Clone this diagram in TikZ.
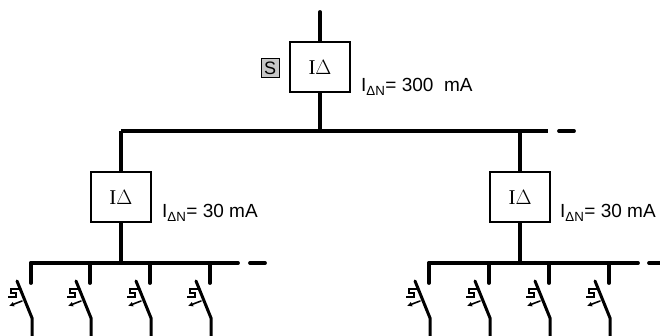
\documentclass[tikz,border=0pt]{standalone}
\usepackage{fontspec}
\setmainfont{Liberation Sans}
\newfontfamily\boxfont{Liberation Serif}
\usepackage{tikz}
\usetikzlibrary{positioning,arrows.meta}

\begin{document}
\begin{tikzpicture}[x=1pt, y=-1pt, line cap=round,
  every node/.style={inner sep=0pt},
  bus/.style={line width=3.8pt},
  wire/.style={line width=3pt},
  rcdbox/.style={draw, line width=2.2pt, minimum width=60pt, minimum height=50pt, font=\boxfont\fontsize{21}{24}\selectfont},
  rating/.style={anchor=base west, font=\fontsize{19}{22}\selectfont}]

\useasboundingbox (0,0) rectangle (660,336);

% main RCD
\node [rcdbox] (rcd) at (320,67) {I$\Delta$};
\node [draw, line width=0.8pt, fill=gray!45, minimum width=18pt, minimum height=19pt, font=\fontsize{18}{20}\selectfont] (sel) at (270,68) {S};
\node [rating] (rcdlbl) at (361,92) {I\textsubscript{ΔN}= 300\ \ mA};
\coordinate (feed) at (320,12);
\coordinate (top) at (320,131);
\draw [bus] (feed) -- (rcd.north);
\draw [bus] (rcd.south) -- (top);
\draw [bus, line cap=butt] (121,131) coordinate (topL) -- (548,131) coordinate (topR);
\draw [bus] (559,131) -- (574,131);

% branch RCDs
\node [rcdbox] (rcdA) at (121,197) {I$\Delta$};
\node [rating] (lblA) at (162,218) {I\textsubscript{ΔN}= 30 mA};
\node [rcdbox] (rcdB) at (520,197) {I$\Delta$};
\node [rating] (lblB) at (560,218) {I\textsubscript{ΔN}= 30 mA};
\draw [bus, line cap=butt] (topL) -- (rcdA.north);
\draw [bus, line cap=butt] (rcdB.north |- topR) -- (rcdB.north);
\draw [bus] (rcdA.south) -- (121,263);
\draw [bus] (rcdB.south) -- (520,263);

% distribution bars
\draw [bus] (31,263) coordinate (barA) -- (238,263);
\draw [bus] (250,263) -- (265,263);
\draw [bus] (429,263) coordinate (barB) -- (638,263);
\draw [bus] (649,263) -- (666,263);

% circuit breakers
\foreach \x in {31,90,150,210,429,489,549,609} {
  \draw [bus] (\x,263) -- (\x,283);
  \draw [wire] (\x-14,281) -- (\x+1,318) -- (\x+1,340);
  \draw [line width=1.6pt, line cap=butt] (\x-11,289) -- (\x-20,289) -- (\x-20,293) -- (\x-15,293) -- (\x-15,297) -- (\x-23,297);
  \draw [line width=1.6pt, -{Latex[length=5pt,width=5pt]}] (\x-9,301) -- (\x-22,306);
}
\end{tikzpicture}
\end{document}
